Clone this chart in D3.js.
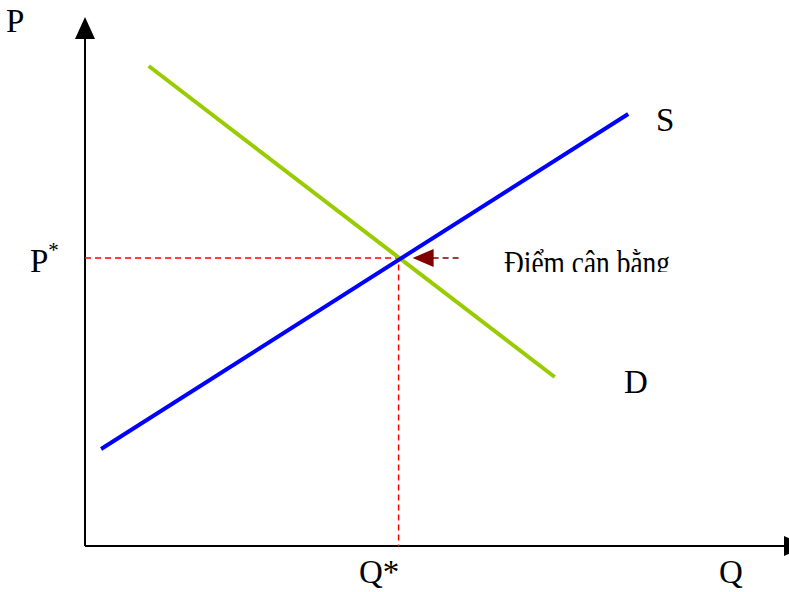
<!DOCTYPE html>
<html>
<head>
<meta charset="utf-8">
<script src="https://cdn.jsdelivr.net/npm/d3@7"></script>
<style>
  body { margin: 0; background: #fff; }
  text { font-family: "Liberation Serif", "Times New Roman", serif; fill: #000; }
</style>
</head>
<body>
<svg id="chart" width="789" height="592"></svg>
<script>
// Supply and demand lines, in (Q, P) units
const supply = [{q: 2.3, p: 19.4}, {q: 77.6, p: 86.4}];
const demand = [{q: 9.1, p: 96}, {q: 67.1, p: 33.8}];
const equilibrium = {q: 44.8, p: 57.6};
const curveLabels = ["S", "D"];
const axisLabels = ["P", "Q"];
const eqLabels = ["P*", "Q*"];
const noteLabel = "Điểm cân bằng";

const svg = d3.select("#chart");

const x = d3.scaleLinear().domain([0, 100]).range([85, 785]);
const y = d3.scaleLinear().domain([0, 100]).range([546, 46]);

const line = d3.line().x(d => x(d.q)).y(d => y(d.p));

// Axes
svg.append("line")
  .attr("x1", x(0)).attr("y1", y(0))
  .attr("x2", x(0)).attr("y2", 36)
  .attr("stroke", "#000").attr("stroke-width", 2);
svg.append("path")
  .attr("d", `M${x(0) - 10},39 L${x(0)},17 L${x(0) + 10},39 Z`)
  .attr("fill", "#000");

svg.append("line")
  .attr("x1", x(0)).attr("y1", y(0))
  .attr("x2", 786).attr("y2", y(0))
  .attr("stroke", "#000").attr("stroke-width", 2);
svg.append("path")
  .attr("d", `M784,${y(0) - 10} L806,${y(0)} L784,${y(0) + 10} Z`)
  .attr("fill", "#000");

// Dashed guides to the equilibrium
svg.append("path")
  .attr("d", `M${x(0)},${y(equilibrium.p)} H${x(equilibrium.q)} V${y(0)}`)
  .attr("fill", "none")
  .attr("stroke", "#ff0000")
  .attr("stroke-width", 1.5)
  .attr("stroke-dasharray", "6,4");

// Demand and supply
svg.append("path")
  .datum(demand)
  .attr("d", line)
  .attr("fill", "none")
  .attr("stroke", "#99cc00")
  .attr("stroke-width", 4);

svg.append("path")
  .datum(supply)
  .attr("d", line)
  .attr("fill", "none")
  .attr("stroke", "#0000ff")
  .attr("stroke-width", 4);

// Arrow pointing to the equilibrium
const ay = y(equilibrium.p);
const ax = x(equilibrium.q);
svg.append("line")
  .attr("x1", ax + 34).attr("y1", ay)
  .attr("x2", ax + 64).attr("y2", ay)
  .attr("stroke", "#800000")
  .attr("stroke-width", 1.5)
  .attr("stroke-dasharray", "6,4");
svg.append("path")
  .attr("d", `M${ax + 14},${ay} L${ax + 35},${ay - 9} L${ax + 35},${ay + 9} Z`)
  .attr("fill", "#800000");

// Labels
const fs = 33;
svg.append("text").attr("x", 6).attr("y", 32)
  .attr("font-size", fs).text(axisLabels[0]);
svg.append("text").attr("x", 719).attr("y", 583)
  .attr("font-size", fs).text(axisLabels[1]);

const pStar = svg.append("text").attr("x", 30).attr("y", 272).attr("font-size", fs);
pStar.append("tspan").text(eqLabels[0][0]);
pStar.append("tspan").attr("dy", -15).attr("font-size", 21).text(eqLabels[0][1]);

svg.append("text").attr("x", 359).attr("y", 583)
  .attr("font-size", fs).text(eqLabels[1]);

svg.append("text").attr("x", 656).attr("y", 131)
  .attr("font-size", fs).text(curveLabels[0]);
svg.append("text").attr("x", 624).attr("y", 393)
  .attr("font-size", fs).text(curveLabels[1]);

// Note label, clipped at the bottom as in the source
svg.append("clipPath").attr("id", "noteClip")
  .append("rect").attr("x", 490).attr("y", 230).attr("width", 200).attr("height", 42);
svg.append("text").attr("x", 504).attr("y", 274)
  .attr("font-size", fs)
  .attr("textLength", 166)
  .attr("lengthAdjust", "spacingAndGlyphs")
  .attr("clip-path", "url(#noteClip)")
  .text(noteLabel);
</script>
</body>
</html>
